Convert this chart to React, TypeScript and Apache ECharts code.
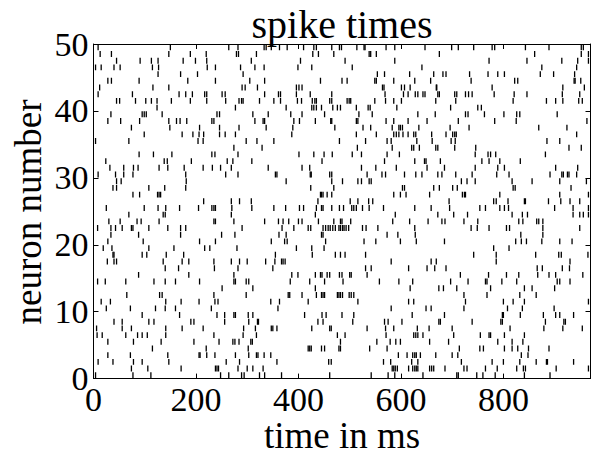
import { useEffect, useRef } from "react";
import * as echarts from "echarts";

// spike times (ms) for each neuron
const n00 = [4, 77, 112, 248, 264, 289, 294, 324, 334, 367, 461, 542, 575, 588, 643, 709, 712, 748, 760, 784, 841, 891];
const n01 = [74, 106, 171, 238, 241, 244, 282, 300, 311, 331, 583, 586, 589, 593, 615, 623, 627, 630, 633, 656, 660, 664, 686, 723, 729, 765, 788, 826, 839, 843, 903, 966];
const n02 = [9, 38, 78, 95, 147, 259, 285, 358, 459, 464, 566, 580, 621, 633, 718, 778, 800, 832, 864, 884, 886, 937];
const n03 = [28, 72, 145, 206, 208, 221, 237, 277, 303, 318, 321, 333, 346, 595, 612, 623, 627, 630, 638, 668, 700, 711, 835, 848];
const n04 = [115, 220, 302, 419, 422, 425, 445, 451, 479, 482, 539, 573, 714, 754, 761, 802, 817, 828, 849, 889];
const n05 = [28, 78, 132, 196, 245, 272, 276, 284, 307, 310, 482, 553, 579, 590, 599, 656, 693, 789, 817, 838];
const n06 = [7, 17, 63, 86, 95, 105, 141, 235, 292, 318, 476, 491, 571, 625, 629, 633, 643, 703, 755, 772, 775, 802, 841];
const n07 = [6, 56, 74, 141, 173, 214, 293, 316, 347, 350, 358, 426, 461, 464, 534, 570, 586, 632, 655, 700, 813, 879, 916, 954];
const n08 = [40, 56, 108, 118, 190, 196, 256, 303, 320, 322, 438, 448, 506, 568, 575, 602, 674, 677, 739, 795, 798, 882, 918, 921];
const n09 = [95, 168, 241, 256, 274, 277, 302, 311, 412, 446, 454, 485, 508, 622, 685, 798, 800, 833, 878, 902, 910, 937];
const n10 = [25, 72, 121, 140, 160, 230, 360, 581, 649, 659, 723, 808, 837, 899];
const n11 = [15, 33, 141, 171, 206, 237, 243, 346, 363, 419, 516, 615, 625, 726, 800, 819, 841, 966];
const n12 = [65, 129, 134, 235, 298, 380, 383, 407, 435, 445, 448, 451, 476, 479, 482, 486, 499, 503, 508, 723, 768, 832, 864];
const n13 = [251, 311, 433, 618, 674, 683, 709, 775, 841, 856, 900];
const n14 = [8, 23, 63, 118, 140, 160, 207, 274, 277, 298, 303, 384, 422, 451, 487, 558, 596, 623, 697, 731, 765, 768, 797, 826, 905, 910, 930];
const n15 = [88, 186, 274, 387, 399, 433, 443, 446, 456, 461, 480, 485, 500, 503, 534, 716, 771, 806, 830, 867, 889, 902, 955];
const n16 = [140, 166, 236, 282, 350, 531, 542, 615, 651, 666, 688, 866, 876, 915, 929];
const n17 = [27, 40, 45, 136, 173, 186, 235, 269, 285, 300, 336, 354, 367, 370, 374, 581, 659, 669, 786, 930];
const n18 = [38, 40, 95, 104, 142, 176, 355, 427, 472, 482, 491, 531, 742, 786, 863, 908, 913, 965];
const n19 = [19, 36, 108, 157, 217, 227, 280, 396, 426, 450, 781, 811];
const n20 = [28, 97, 207, 238, 347, 373, 378, 453, 528, 551, 599, 630, 685, 824, 835, 845, 875, 910, 934];
const n21 = [34, 88, 170, 250, 276, 362, 376, 445, 448, 573, 594, 628, 834, 877];
const n22 = [8, 34, 43, 56, 74, 77, 108, 145, 170, 180, 290, 368, 391, 419, 424, 448, 453, 458, 462, 467, 472, 479, 482, 486, 489, 493, 498, 525, 532, 555, 627, 737, 749, 772, 806, 812, 877, 949];
const n23 = [30, 52, 85, 93, 128, 235, 238, 274, 334, 361, 370, 381, 400, 407, 439, 469, 482, 485, 502, 584, 617, 653, 680, 686, 723, 750, 830, 838, 865, 869, 877];
const n24 = [69, 136, 140, 269, 433, 589, 672, 703, 730, 817, 837, 847, 936, 949, 956, 966];
const n25 = [25, 99, 126, 141, 168, 205, 231, 235, 238, 270, 309, 352, 375, 402, 410, 435, 445, 448, 465, 480, 488, 504, 508, 513, 525, 538, 566, 627, 659, 695, 754, 765, 793, 802, 810, 900, 936, 966];
const n26 = [215, 269, 285, 308, 438, 501, 516, 537, 545, 694, 781, 786, 809, 841, 843, 888, 912, 930, 949];
const n27 = [77, 90, 125, 128, 131, 443, 445, 448, 456, 465, 586, 599, 610, 656, 720, 724, 726, 793, 910, 966];
const n28 = [38, 45, 108, 139, 180, 424, 469, 603, 607, 664, 675, 701, 710, 819, 823, 932];
const n29 = [45, 54, 181, 376, 465, 486, 516, 523, 538, 542, 718, 729, 745, 817, 856, 910, 962];
const n30 = [9, 43, 59, 77, 180, 258, 282, 355, 358, 423, 425, 461, 465, 534, 563, 570, 607, 629, 641, 672, 680, 707, 739, 787, 811, 891, 914, 917, 925, 928, 943];
const n31 = [32, 59, 78, 87, 128, 145, 177, 214, 232, 248, 269, 341, 407, 422, 523, 551, 591, 651, 685, 745, 789, 802, 902, 945];
const n32 = [24, 138, 144, 191, 261, 272, 309, 446, 568, 627, 646, 649, 677, 758, 772, 793, 833];
const n33 = [89, 117, 153, 231, 237, 282, 401, 430, 450, 466, 505, 523, 573, 597, 745, 770, 775, 785, 882];
const n34 = [274, 329, 515, 583, 621, 625, 636, 668, 672, 705, 746, 928, 952];
const n35 = [4, 69, 204, 214, 298, 319, 352, 480, 531, 573, 581, 631, 661, 698, 706, 885, 910];
const n36 = [99, 173, 194, 206, 215, 246, 257, 277, 387, 513, 552, 586, 591, 596, 604, 614, 625, 629, 660, 688, 701, 705, 708, 943];
const n37 = [74, 149, 207, 246, 284, 337, 389, 471, 526, 541, 583, 596, 599, 603, 635, 696, 733, 869, 924];
const n38 = [28, 53, 90, 147, 162, 169, 182, 231, 235, 315, 331, 334, 391, 402, 433, 463, 465, 513, 516, 571, 586, 614, 651, 712, 783, 825, 963];
const n39 = [34, 95, 99, 103, 134, 241, 246, 311, 341, 385, 407, 451, 518, 544, 633, 667, 726, 731, 763, 801, 826, 832, 905];
const n40 = [124, 277, 376, 426, 430, 435, 445, 467, 476, 482, 513, 536, 540, 592, 697, 750, 757];
const n41 = [45, 51, 82, 102, 113, 124, 152, 189, 221, 258, 284, 289, 292, 324, 352, 365, 398, 406, 427, 432, 435, 461, 465, 495, 499, 502, 549, 570, 586, 601, 668, 707, 819, 884, 902, 916, 947, 954];
const n42 = [9, 76, 167, 180, 193, 217, 221, 251, 257, 334, 361, 365, 396, 423, 465, 569, 605, 614, 628, 633, 643, 647, 672, 675, 705, 709, 726, 732, 739, 782, 821, 846, 915, 949];
const n43 = [12, 116, 147, 290, 296, 320, 396, 401, 407, 564, 567, 601, 607, 618, 669, 670, 778, 916, 958];
const n44 = [28, 35, 89, 184, 238, 305, 334, 443, 485, 495, 549, 552, 586, 627, 658, 737, 822, 828, 938, 940, 951];
const n45 = [126, 170, 203, 292, 554, 568, 617, 664, 682, 688, 734, 770, 789, 802, 872, 898, 939];
const n46 = [4, 15, 40, 52, 115, 127, 222, 238, 287, 315, 333, 399, 426, 505, 641, 875, 943];
const n47 = [45, 91, 113, 126, 175, 199, 221, 308, 404, 491, 588, 772, 846, 914, 945, 966];
const n48 = [13, 35, 147, 189, 220, 279, 283, 318, 428, 439, 469, 538, 541, 552, 675, 861, 952, 966];
const n49 = [9, 150, 264, 282, 333, 337, 347, 363, 378, 410, 430, 435, 465, 480, 484, 514, 528, 530, 571, 588, 647, 699, 712, 742, 778, 783, 843, 889, 952, 956];

const spikeTrains = [
  n00, n01, n02, n03, n04, n05, n06, n07, n08, n09,
  n10, n11, n12, n13, n14, n15, n16, n17, n18, n19,
  n20, n21, n22, n23, n24, n25, n26, n27, n28, n29,
  n30, n31, n32, n33, n34, n35, n36, n37, n38, n39,
  n40, n41, n42, n43, n44, n45, n46, n47, n48, n49,
];

const xTickStep = 200;
const xMax = 970;
const yTickStep = 10;
const yMax = 50;

const titleText = "spike times";
const xLabelText = "time in ms";
const yLabelText = "neuron number";

export default function App() {
  const ref = useRef<HTMLDivElement>(null);
  useEffect(() => {
    if (!ref.current) return;
    const chart = echarts.init(ref.current, undefined, { renderer: "svg" });
    const data: number[][] = [];
    spikeTrains.forEach((train, k) => train.forEach((t) => data.push([t, k])));
    const font = "'Liberation Serif', 'Times New Roman', serif";
    const fs = 34;
    const labelFs = 37;
    const titleFs = 40;
    const lineStyle = { color: "#000", width: 1 };
    const tick = { show: true, inside: true, length: 5, lineStyle };
    const xBase = {
      type: "value",
      min: 0,
      max: xMax,
      interval: xTickStep,
      axisLine: { show: true, onZero: false, lineStyle },
      axisTick: tick,
      splitLine: { show: false },
    };
    const yBase = {
      type: "value",
      min: 0,
      max: yMax,
      interval: yTickStep,
      axisLine: { show: true, onZero: false, lineStyle },
      axisTick: tick,
      splitLine: { show: false },
    };
    chart.setOption({
      animation: false,
      grid: { left: 93.5, right: 1.5, top: 44, bottom: 78.4, containLabel: false },
      xAxis: [
        {
          ...xBase,
          position: "bottom",
          axisLabel: {
            show: true,
            margin: 4,
            color: "#000",
            fontFamily: font,
            fontSize: fs,
            showMaxLabel: false,
            formatter: (v: number) => (v % xTickStep === 0 ? String(v) : ""),
          },
        },
        { ...xBase, position: "top", axisLabel: { show: false } },
      ],
      yAxis: [
        {
          ...yBase,
          position: "left",
          axisLabel: { show: true, margin: 5, color: "#000", fontFamily: font, fontSize: fs },
        },
        { ...yBase, position: "right", axisLabel: { show: false } },
      ],
      series: [
        {
          type: "custom",
          xAxisIndex: 0,
          yAxisIndex: 0,
          clip: true,
          encode: { x: 0, y: 1 },
          data,
          renderItem: (_params: any, api: any) => {
            const t = api.value(0);
            const k = api.value(1);
            const p0 = api.coord([t, k + 0.06]);
            const p1 = api.coord([t, k + 0.94]);
            return {
              type: "line",
              shape: { x1: p0[0], y1: p0[1], x2: p1[0], y2: p1[1] },
              style: { stroke: "#000", lineWidth: 1.3 },
            };
          },
        },
      ],
      graphic: [
        {
          type: "text",
          x: 342,
          y: 24,
          style: { text: titleText, fill: "#000", font: `${titleFs}px ${font}`, textAlign: "center", textVerticalAlign: "middle" },
        },
        {
          type: "text",
          x: 342,
          y: 435,
          style: { text: xLabelText, fill: "#000", font: `${labelFs}px ${font}`, textAlign: "center", textVerticalAlign: "middle" },
        },
        {
          type: "text",
          x: 28,
          y: 212,
          rotation: Math.PI / 2,
          style: { text: yLabelText, fill: "#000", font: `${labelFs}px ${font}`, textAlign: "center", textVerticalAlign: "middle" },
        },
      ],
    });
    return () => chart.dispose();
  }, []);
  return <div ref={ref} style={{ position: "absolute", left: 0, top: 0, width: 592, height: 457 }} />;
}
